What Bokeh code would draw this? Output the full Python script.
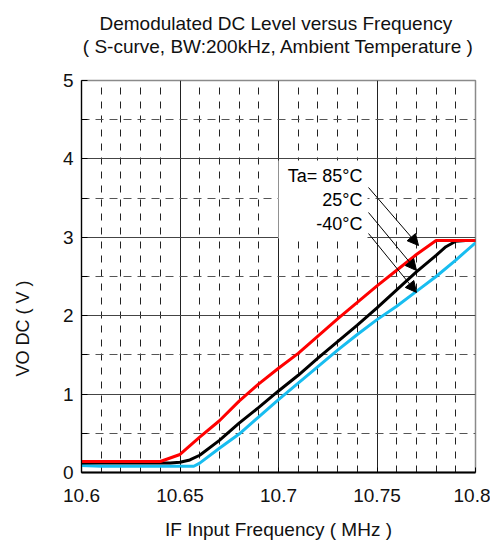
import numpy as np
from bokeh.plotting import figure
from bokeh.models import Range1d, FixedTicker, Label, Arrow, NormalHead, BoxAnnotation, Title
from bokeh.embed import file_html
from bokeh.resources import INLINE

# ---------------- data ----------------
title_line1 = "Demodulated DC Level  versus Frequency"
title_line2 = "( S-curve, BW:200kHz, Ambient Temperature )"
x_label = "IF Input Frequency ( MHz )"
y_label = "VO DC ( V )"

x_ticks = [10.6, 10.65, 10.7, 10.75, 10.8]
x_tick_labels = ["10.6", "10.65", "10.7", "10.75", "10.8"]
y_ticks = [0, 1, 2, 3, 4, 5]
y_tick_labels = ["0", "1", "2", "3", "4", "5"]

series_names = ["Ta= 85°C", "25°C", "-40°C"]

freq_85 = [10.60, 10.64, 10.65, 10.66, 10.67, 10.68, 10.69, 10.70, 10.71, 10.72,
           10.73, 10.74, 10.75, 10.76, 10.77, 10.78, 10.79, 10.80]
vo_85 = [0.14, 0.14, 0.23, 0.45, 0.66, 0.91, 1.13, 1.33, 1.52, 1.74,
         1.96, 2.17, 2.38, 2.58, 2.78, 2.96, 2.96, 2.96]

freq_25 = [10.60, 10.645, 10.65, 10.655, 10.66, 10.67, 10.68, 10.69, 10.70, 10.71,
           10.72, 10.73, 10.74, 10.75, 10.76, 10.77, 10.78, 10.785, 10.79, 10.795, 10.80]
vo_25 = [0.12, 0.12, 0.13, 0.16, 0.22, 0.41, 0.63, 0.83, 1.04, 1.24,
         1.46, 1.67, 1.88, 2.10, 2.33, 2.56, 2.77, 2.88, 2.95, 2.96, 2.96]

freq_m40 = [10.60, 10.61, 10.657, 10.66, 10.67, 10.68, 10.69, 10.70, 10.71, 10.72,
            10.73, 10.74, 10.75, 10.76, 10.77, 10.78, 10.79, 10.80]
vo_m40 = [0.09, 0.08, 0.08, 0.12, 0.31, 0.49, 0.71, 0.93, 1.14, 1.35,
          1.56, 1.76, 1.95, 2.12, 2.31, 2.50, 2.71, 2.93]

# ---------------- layout ----------------
FONT = "Liberation Sans"
W, H = 490, 550
FRAME_L, FRAME_T, FRAME_R, FRAME_B = 81, 80, 475, 472   # page pixels
BL, BT, BR, BB = FRAME_L, FRAME_T, W - FRAME_R, H - FRAME_B
FW, FH = FRAME_R - FRAME_L, FRAME_B - FRAME_T
X0, X1, Y0, Y1 = 10.6, 10.8, 0.0, 5.0


def xd(px):  # page pixel -> data x
    return X0 + (px - FRAME_L) / FW * (X1 - X0)


def yd(py):  # page pixel -> data y
    return Y1 - (py - FRAME_T) / FH * (Y1 - Y0)


p = figure(width=W, height=H, x_range=Range1d(X0, X1), y_range=Range1d(Y0, Y1),
           output_backend="svg", toolbar_location=None,
           min_border_left=BL, min_border_right=BR, min_border_top=BT, min_border_bottom=BB)
p.title.text = ""
p.background_fill_color = "white"
p.border_fill_color = "white"
p.outline_line_color = "#8a8a8a"
p.outline_line_width = 1.5

x_minor = [round(v, 2) for v in np.arange(10.61, 10.795, 0.01) if round(v, 2) not in x_ticks]
y_minor = [0.5, 1.5, 2.5, 3.5, 4.5]

p.xaxis.ticker = FixedTicker(ticks=x_ticks, minor_ticks=x_minor)
p.yaxis.ticker = FixedTicker(ticks=y_ticks, minor_ticks=y_minor)
p.xaxis.major_label_overrides = dict(zip(x_ticks, x_tick_labels))
p.yaxis.major_label_overrides = dict(zip(y_ticks, y_tick_labels))

for ax in (p.xaxis, p.yaxis):
    ax.major_label_text_font = FONT
    ax.major_label_text_font_size = "19px"
    ax.major_label_text_color = "#111111"
    ax.axis_line_color = "black"
    ax.major_tick_out = 0
    ax.minor_tick_out = 0
    ax.major_tick_line_color = "black"
    ax.minor_tick_line_color = "black"

p.xaxis.axis_line_width = 2
p.yaxis.axis_line_width = 1.2
p.xaxis.major_tick_in = 5
p.xaxis.minor_tick_in = 0
p.yaxis.major_tick_in = 6
p.yaxis.minor_tick_in = 6
p.xaxis.major_label_standoff = 16
p.yaxis.major_label_standoff = 8

p.xaxis.axis_label = x_label
p.xaxis.axis_label_text_font = FONT
p.xaxis.axis_label_text_font_size = "19px"
p.xaxis.axis_label_text_font_style = "normal"
p.xaxis.axis_label_text_color = "#111111"
p.xaxis.axis_label_standoff = 14

p.xgrid.grid_line_color = "#222222"
p.xgrid.grid_line_width = 1
p.xgrid.minor_grid_line_color = "#222222"
p.xgrid.minor_grid_line_width = 1
p.xgrid.minor_grid_line_dash = "7 7"
p.ygrid.grid_line_color = "#444444"
p.ygrid.grid_line_width = 1.2
p.ygrid.minor_grid_line_color = "#555555"
p.ygrid.minor_grid_line_width = 1.2
p.ygrid.minor_grid_line_dash = "8 6"

# curves
p.line(freq_m40, vo_m40, line_color="#18BDF0", line_width=3)
p.line(freq_25, vo_25, line_color="black", line_width=3)
p.line(freq_85, vo_85, line_color="#FF0000", line_width=3)

# white box behind the legend texts
p.add_layout(BoxAnnotation(left=xd(278), right=xd(367), bottom=yd(238), top=yd(160),
                           fill_color="white", fill_alpha=1.0, line_color=None, level="glyph"))

# legend texts and arrows
for name, py in zip(series_names, [175, 199, 223]):
    p.add_layout(Label(x=xd(362), y=yd(py), text=name, text_align="right", text_baseline="middle",
                       text_font=FONT, text_font_size="18px", text_color="black"))

tails = [(368, 187), (368, 212), (368, 233)]
tips = [(418, 245), (416, 270), (416, 292)]
for (tx, ty), (hx, hy) in zip(tails, tips):
    p.add_layout(Arrow(end=NormalHead(size=11, fill_color="black", line_color="black"),
                       x_start=xd(tx), y_start=yd(ty), x_end=xd(hx), y_end=yd(hy),
                       line_color="black", line_width=1))

# titles: second line first (nearest the plot); a blank line keeps it clear of the plot
p.add_layout(Title(text=title_line2 + "\n ", align="center", vertical_align="bottom",
                   text_font=FONT, text_font_size="19px", text_font_style="normal",
                   text_color="#111111", text_line_height=1.08, standoff=1), "above")
p.add_layout(Title(text=title_line1, align="center", vertical_align="bottom",
                   text_font=FONT, text_font_size="19px", text_font_style="normal",
                   text_color="#111111", standoff=0), "above")

# y axis title (blank second line pushes the text outward)
p.add_layout(Title(text=y_label + "\n ", align="left", vertical_align="bottom", offset=96,
                   text_font=FONT, text_font_size="18px", text_font_style="normal",
                   text_color="#111111", standoff=14), "left")

open("out.html", "w").write(file_html(p, INLINE))
